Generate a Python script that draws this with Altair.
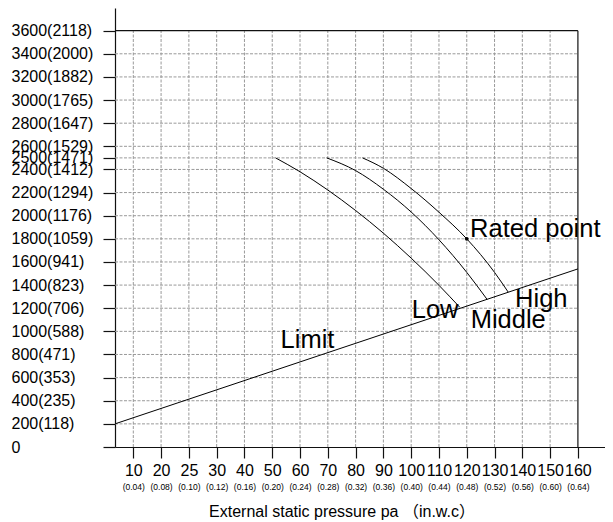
import json
import altair as alt
import pandas as pd

FONT = "Liberation Sans, Arial, Noto Sans CJK SC"

# ---- axis ticks / labels ----
x_pos = list(range(1, 18))
x_labels = ["10", "20", "25", "30", "40", "50", "60", "70", "80", "90",
            "100", "110", "120", "130", "140", "150", "160"]
x_sub = ["(0.04)", "(0.08)", "(0.10)", "(0.12)", "(0.16)", "(0.20)", "(0.24)",
         "(0.28)", "(0.32)", "(0.36)", "(0.40)", "(0.44)", "(0.48)", "(0.52)",
         "(0.56)", "(0.60)", "(0.64)"]
y_ticks = [0, 200, 400, 600, 800, 1000, 1200, 1400, 1600, 1800, 2000, 2200,
           2400, 2500, 2600, 2800, 3000, 3200, 3400, 3600]
y_labels = ["0", "200(118)", "400(235)", "600(353)", "800(471)", "1000(588)",
            "1200(706)", "1400(823)", "1600(941)", "1800(1059)", "2000(1176)",
            "2200(1294)", "2400(1412)", "2500(1471)", "2600(1529)", "2800(1647)",
            "3000(1765)", "3200(1882)", "3400(2000)", "3600(2118)"]

# ---- curves ----
low_x = [6.12, 7, 8, 9, 10, 11, 12, 12.75]
low_y = [2500, 2380, 2222, 2045, 1849, 1633, 1398, 1208]
mid_x = [7.96, 9, 10, 11, 12, 13, 13.73]
mid_y = [2500, 2390, 2229, 2032, 1792, 1510, 1277]
high_x = [9.25, 10, 11, 12, 13, 14, 14.49]
high_y = [2500, 2410, 2235, 2030, 1800, 1510, 1340]
limit_x = [0.3415, 17]
limit_y = [200, 1540]
rated_x = [13]
rated_y = [1800]

ann_text = ["Rated point", "High", "Low", "Middle", "Limit"]
ann_x = [13.12, 14.74, 11.02, 13.14, 6.30]
ann_y = [1818, 1213, 1115, 1026, 853]

XMIN, XMAX = 0.3415, 17.975
YMAX = 3796
FRAME_X, FRAME_Y = 17, 3600

xscale = alt.Scale(domain=[XMIN, XMAX], nice=False, zero=False)
yscale = alt.Scale(domain=[0, YMAX], nice=False, zero=False)

x_expr = f"{json.dumps(x_labels)}[indexof({json.dumps(x_pos)}, datum.value)]"
s_expr = f"{json.dumps(x_sub)}[indexof({json.dumps(x_pos)}, datum.value)]"
y_expr = f"{json.dumps(y_labels)}[indexof({json.dumps(y_ticks)}, datum.value)]"

main_x_axis = alt.Axis(orient="bottom", values=x_pos, labelExpr=x_expr,
                       grid=False, title=None,
                       tickSize=11, tickColor="#111", tickWidth=1.2,
                       domainColor="#111", domainWidth=1.2,
                       labelFontSize=16, labelPadding=4, labelColor="#000",
                       labelFont=FONT, labelOverlap=False, labelFlush=False)
sub_x_axis = alt.Axis(orient="bottom", values=x_pos, labelExpr=s_expr,
                      grid=False, ticks=False, offset=0,
                      tickSize=0, domain=False, labelFontSize=8.5, labelPadding=35.5,
                      labelColor="#000", labelFont=FONT, labelOverlap=False,
                      labelFlush=False,
                      title="External static pressure pa （in.w.c）",
                      titleFont=FONT, titleFontSize=16, titleFontWeight="normal",
                      titleColor="#000", titleX=226.5, titleY=69.5,
                      titleAlign="center", titleBaseline="alphabetic")
y_axis = alt.Axis(orient="left", values=y_ticks, labelExpr=y_expr, grid=False,
                  title=None,
                  tickSize=12, tickColor="#111", tickWidth=1.2,
                  domainColor="#111", domainWidth=1.2,
                  labelFontSize=16, labelPadding=92, labelAlign="left",
                  labelBaseline="middle", labelColor="#000", labelFont=FONT,
                  labelOverlap=False, labelFlush=False)

hgrid = pd.DataFrame({"y": [t for t in y_ticks if 0 < t < FRAME_Y]})
hgrid["x"] = XMIN
hgrid["x2"] = FRAME_X
vgrid = pd.DataFrame({"x": x_pos[:-1]})
vgrid["y"] = 0
vgrid["y2"] = FRAME_Y
frame_h = pd.DataFrame({"x": [XMIN], "x2": [FRAME_X], "y": [FRAME_Y]})
frame_v = pd.DataFrame({"x": [FRAME_X], "y": [0], "y2": [FRAME_Y]})

GRID = dict(color="#9a9a9a", strokeWidth=1, strokeDash=[3, 1.5])


def X(ax=None):
    if ax is None:
        return alt.X("x:Q", scale=xscale, axis=None)
    return alt.X("x:Q", scale=xscale, axis=ax)


def Y():
    return alt.Y("y:Q", scale=yscale, axis=y_axis)


hg = alt.Chart(hgrid).mark_rule(**GRID).encode(x=X(main_x_axis), x2="x2:Q", y=Y())
vg = alt.Chart(vgrid).mark_rule(**GRID).encode(x=X(), y=Y(), y2="y2:Q")
fh = alt.Chart(frame_h).mark_rule(color="#111", strokeWidth=1.2).encode(
    x=X(), x2="x2:Q", y=Y())
fv = alt.Chart(frame_v).mark_rule(color="#111", strokeWidth=1.2).encode(
    x=X(), y=Y(), y2="y2:Q")

curves = pd.concat([
    pd.DataFrame({"x": low_x, "y": low_y, "s": "Low"}),
    pd.DataFrame({"x": mid_x, "y": mid_y, "s": "Middle"}),
    pd.DataFrame({"x": high_x, "y": high_y, "s": "High"}),
    pd.DataFrame({"x": limit_x, "y": limit_y, "s": "Limit"}),
], ignore_index=True)

lines = alt.Chart(curves).mark_line(color="#000", strokeWidth=1,
                                    interpolate="monotone").encode(
    x=X(), y=Y(), detail="s:N")

rated = alt.Chart(pd.DataFrame({"x": rated_x, "y": rated_y})).mark_point(
    filled=True, color="#000", size=14, opacity=1).encode(
    x=X(sub_x_axis), y=Y())

ann = alt.Chart(pd.DataFrame({"t": ann_text, "x": ann_x, "y": ann_y})).mark_text(
    align="left", baseline="alphabetic", fontSize=25.5, font=FONT, color="#000").encode(
    x=X(), y=Y(), text="t:N")

chart = alt.layer(hg, vg, fh, fv, lines, rated, ann).resolve_axis(
    x="independent"
).properties(
    width=490, height=439,
    padding={"left": 107, "top": 0, "right": 0, "bottom": 75},
    autosize=alt.AutoSizeParams(type="none"),
    background="white",
).configure_view(stroke=None)

chart.save("out.html", embed_options={"renderer": "svg", "actions": False})
